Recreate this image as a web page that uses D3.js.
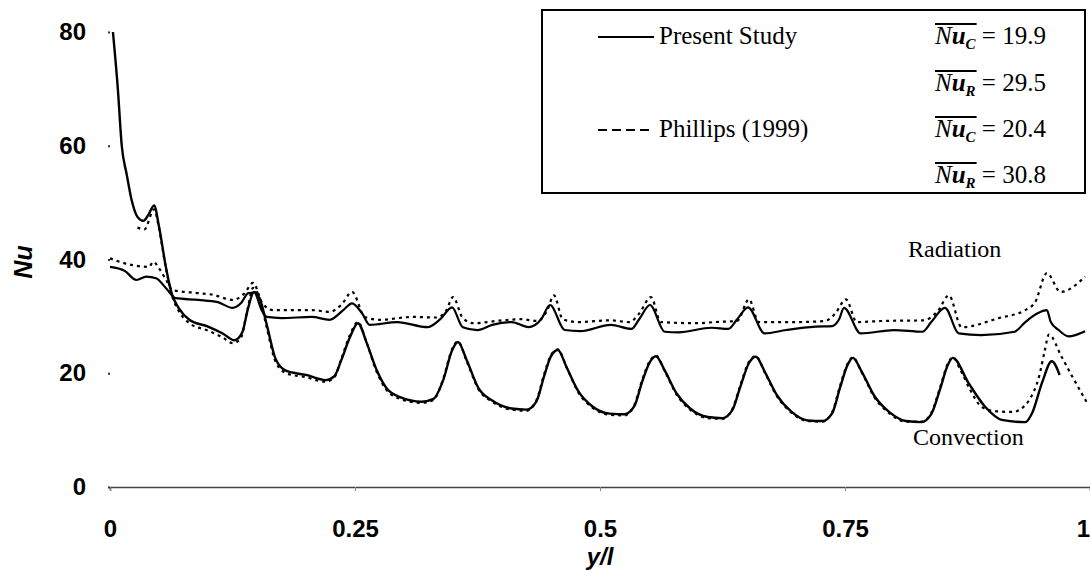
<!DOCTYPE html>
<html>
<head>
<meta charset="utf-8">
<script src="https://cdn.jsdelivr.net/npm/d3@7"></script>
<style>
  body { margin: 0; background: #fff; }
  svg { display: block; }
</style>
</head>
<body>
<div id="chart"></div>
<script>
// values, [y/l, Nu]
const presentConvection = [
  [0.003,80],[0.008,70],[0.012,60],[0.017,55],[0.022,50.5],[0.028,47.5],[0.034,46.8],[0.039,47.8],
  [0.045,49.5],[0.050,45.8],[0.057,38.7],[0.063,34],[0.070,31.5],[0.081,29.4],[0.100,28.2],[0.115,27],
  [0.127,25.8],[0.135,27.2],[0.141,31.5],[0.147,34.3],[0.153,33],[0.160,28.5],[0.169,22.5],[0.180,20.4],
  [0.200,19.7],[0.220,18.8],[0.229,19.5],[0.236,22.3],[0.245,26.4],[0.253,28.8],[0.262,25.3],[0.272,20.6],
  [0.282,17.4],[0.296,15.8],[0.318,15],[0.330,15.5],[0.340,18.8],[0.349,24],[0.355,25.5],[0.364,22.3],
  [0.376,17.4],[0.390,15.2],[0.410,13.8],[0.425,13.6],[0.435,15],[0.443,19.5],[0.450,23],[0.457,24.1],
  [0.466,21],[0.478,16.8],[0.492,14.2],[0.510,12.9],[0.525,12.8],[0.535,14.2],[0.543,18.5],[0.551,22],
  [0.557,23],[0.566,20.5],[0.578,16.5],[0.592,13.8],[0.610,12.3],[0.625,12.1],[0.635,13.5],[0.643,17.5],
  [0.652,21.8],[0.659,22.9],[0.668,20.3],[0.680,16.3],[0.695,13.3],[0.712,11.7],[0.727,11.6],[0.737,13],
  [0.745,17.5],[0.753,21.6],[0.758,22.7],[0.767,20.3],[0.780,16],[0.795,13.2],[0.812,11.6],[0.828,11.4],
  [0.838,12.8],[0.847,17.2],[0.855,21.5],[0.860,22.7],[0.876,18.3],[0.893,14.1],[0.910,11.8],[0.934,11.4],
  [0.941,13],[0.951,18.3],[0.961,22.1],[0.969,19.7]
];

const presentRadiation = [
  [0.000,38.7],[0.015,38],[0.027,36.4],[0.037,37],[0.047,36.7],[0.057,35],[0.067,33.2],[0.090,32.9],
  [0.110,32.5],[0.125,31.5],[0.134,32.4],[0.141,34.1],[0.147,34.2],[0.155,31],[0.160,29.9],[0.175,29.7],
  [0.206,29.9],[0.224,29.4],[0.238,31.1],[0.247,32.3],[0.257,30.6],[0.265,28.5],[0.293,29],[0.324,28.1],
  [0.337,29.5],[0.349,31.6],[0.360,28.1],[0.375,27.6],[0.390,28.5],[0.410,29],[0.427,28.1],[0.440,29.5],
  [0.449,32],[0.464,27.6],[0.480,27.4],[0.511,28.5],[0.532,27.8],[0.540,29.5],[0.551,32],[0.566,27.3],
  [0.580,27.2],[0.614,28],[0.631,27.8],[0.640,29.5],[0.651,31.6],[0.668,27],[0.690,27.6],[0.720,28.2],
  [0.737,28.3],[0.744,29.5],[0.749,31.5],[0.766,27],[0.800,27.6],[0.829,27.3],[0.838,29],[0.852,31.5],
  [0.866,27],[0.889,26.7],[0.923,27.3],[0.934,29],[0.946,30.5],[0.956,31.1],[0.960,29],[0.968,27.6],
  [0.978,26.5],[0.995,27.4]
];

const phillipsConvection = [
  [0.028,45.6],[0.035,45.3],[0.045,48.8],[0.050,45.5],[0.057,38.5],[0.063,33.8],[0.070,31],[0.081,28.8],
  [0.100,27.5],[0.115,26.3],[0.125,25.3],[0.133,26],[0.140,31],[0.146,35],[0.153,33],[0.160,28],
  [0.169,22],[0.180,20],[0.200,19.3],[0.220,18.5],[0.229,19.3],[0.236,22.5],[0.245,26.8],[0.253,29],
  [0.262,25.3],[0.272,20.3],[0.282,17.1],[0.296,15.5],[0.318,14.8],[0.330,15.3],[0.340,19],[0.349,24.2],
  [0.355,25.6],[0.364,22.1],[0.376,17.2],[0.390,15],[0.410,13.6],[0.425,13.4],[0.435,15.2],[0.443,19.8],
  [0.450,23.2],[0.457,24.2],[0.466,21],[0.478,16.6],[0.492,14],[0.510,12.7],[0.525,12.6],[0.535,14.4],
  [0.543,18.8],[0.551,22.2],[0.557,23.1],[0.566,20.4],[0.578,16.3],[0.592,13.6],[0.610,12.1],[0.625,12],
  [0.635,13.7],[0.643,17.8],[0.652,22],[0.659,23],[0.668,20.2],[0.680,16.1],[0.695,13.1],[0.712,11.6],
  [0.727,11.5],[0.737,13.2],[0.745,17.8],[0.753,21.8],[0.758,22.8],[0.767,20.2],[0.780,15.8],[0.795,13],
  [0.812,11.5],[0.828,11.5],[0.838,13],[0.847,17.5],[0.855,21.7],[0.860,22.8],[0.868,20.5],[0.878,17],
  [0.890,14],[0.905,13.3],[0.922,13.2],[0.930,13.8],[0.938,15.3],[0.948,19.4],[0.954,24.1],[0.958,26.8],
  [0.971,22.9],[0.982,19.4],[0.997,14.8]
];

const phillipsRadiation = [
  [0.000,40.2],[0.023,39],[0.040,38.7],[0.044,39.6],[0.051,38.2],[0.057,36.5],[0.064,34.6],[0.090,34.1],
  [0.105,33.8],[0.125,32.9],[0.137,34],[0.146,35.9],[0.155,32.5],[0.166,31.1],[0.206,31.1],[0.224,30.8],
  [0.236,32],[0.247,34.3],[0.260,29.9],[0.275,29.4],[0.309,29.9],[0.333,29.8],[0.343,31],[0.350,33.4],
  [0.360,29.7],[0.371,28.8],[0.400,29.3],[0.420,29.5],[0.436,29.2],[0.446,31],[0.453,33.7],[0.462,29.5],
  [0.478,29],[0.510,29.3],[0.530,29],[0.540,30.5],[0.552,33.4],[0.562,29],[0.600,28.8],[0.617,29],
  [0.640,29.2],[0.652,33],[0.662,29],[0.700,29],[0.730,29.2],[0.740,30.5],[0.751,33],[0.762,29],
  [0.790,29.2],[0.830,29.3],[0.845,31],[0.856,33.7],[0.869,28.1],[0.907,29.7],[0.934,31.1],[0.944,32.5],
  [0.956,37.6],[0.970,34.3],[0.995,37]
];

const xTicks = [0, 0.25, 0.5, 0.75, 1];
const xTickLabels = ["0", "0.25", "0.5", "0.75", "1"];
const yTicks = [0, 20, 40, 60, 80];

const legendSeries = ["Present Study", "Phillips (1999)"];
const meanLabels = [
  {sub: "C", value: "19.9"},
  {sub: "R", value: "29.5"},
  {sub: "C", value: "20.4"},
  {sub: "R", value: "30.8"}
];

let dim = { 'width': 1090, 'height': 571 };

let svg = d3.select('#chart').append('svg')
    .attr('width', dim.width)
    .attr('height', dim.height);

let scaleX = d3.scaleLinear().domain([0, 1]).range([110, 1090]);
let scaleY = d3.scaleLinear().domain([0, 80]).range([487, 32]);

let sans = 'Liberation Sans, Arial, sans-serif';
let serif = 'Liberation Serif, Times New Roman, serif';

// x axis
let axisX = svg.append('g')
    .attr('transform', 'translate(0,' + scaleY(0) + ')')
    .call(d3.axisBottom(scaleX).tickValues(xTicks)
        .tickFormat((d, i) => xTickLabels[i]).tickSize(4).tickPadding(29));
axisX.select('.domain').attr('stroke', '#444').attr('stroke-width', 1.6);
axisX.selectAll('.tick line').attr('stroke', '#888');
axisX.selectAll('text')
    .attr('font-family', sans).attr('font-weight', 'bold')
    .attr('font-size', 24).attr('fill', '#000')
    .attr('dx', d => d === 1 ? -7 : 0);   // keep the last label inside the page

// y axis: no line, small dots for ticks
let axisY = svg.append('g')
    .attr('transform', 'translate(110,0)')
    .call(d3.axisLeft(scaleY).tickValues(yTicks).tickSize(2).tickPadding(22));
axisY.select('.domain').remove();
axisY.selectAll('.tick line').attr('stroke', '#333').attr('stroke-width', 2);
axisY.selectAll('text')
    .attr('font-family', sans).attr('font-weight', 'bold')
    .attr('font-size', 24).attr('fill', '#000');

// axis titles
svg.append('text')
    .attr('x', 600).attr('y', 565)
    .attr('text-anchor', 'middle')
    .attr('font-family', sans)
    .attr('font-size', 24).attr('font-weight', 'bold').attr('font-style', 'italic')
    .text('y/l');

svg.append('text')
    .attr('transform', 'translate(32,262) rotate(-90)')
    .attr('text-anchor', 'middle')
    .attr('font-family', sans)
    .attr('font-size', 25).attr('font-weight', 'bold').attr('font-style', 'italic')
    .text('Nu');

// curves
let line = d3.line()
    .x(d => scaleX(d[0]))
    .y(d => scaleY(d[1]))
    .curve(d3.curveMonotoneX);

let curves = [
  {data: phillipsRadiation, dash: '3,4', width: 2.2},
  {data: phillipsConvection, dash: '3,4', width: 2.2},
  {data: presentRadiation, dash: null, width: 2.2},
  {data: presentConvection, dash: null, width: 2.4}
];

svg.selectAll('path.curve')
    .data(curves)
    .enter()
    .append('path')
    .attr('class', 'curve')
    .attr('d', d => line(d.data))
    .attr('fill', 'none')
    .attr('stroke', '#000')
    .attr('stroke-width', d => d.width)
    .attr('stroke-dasharray', d => d.dash)
    .attr('stroke-linejoin', 'round');

// curve labels
svg.append('text').attr('x', 908).attr('y', 257)
    .attr('font-family', serif).attr('font-size', 24).text('Radiation');
svg.append('text').attr('x', 913).attr('y', 445)
    .attr('font-family', serif).attr('font-size', 24).text('Convection');

// legend box
let legend = svg.append('g');
legend.append('rect')
    .attr('x', 542).attr('y', 10)
    .attr('width', 543).attr('height', 183)
    .attr('fill', '#fff').attr('stroke', '#000').attr('stroke-width', 2);

let rowY = [44, 91, 137, 183];

legendSeries.forEach((name, i) => {
    let y = rowY[i * 2];
    legend.append('line')
        .attr('x1', 598).attr('x2', 654)
        .attr('y1', y - 7).attr('y2', y - 7)
        .attr('stroke', '#000').attr('stroke-width', 2)
        .attr('stroke-dasharray', i === 0 ? null : '9,5');
    legend.append('text')
        .attr('x', 659).attr('y', y)
        .attr('font-family', serif).attr('font-size', 25)
        .text(name);
});

meanLabels.forEach((m, i) => {
    let y = rowY[i];
    let t = legend.append('text')
        .attr('x', 935).attr('y', y)
        .attr('font-family', serif).attr('font-size', 25);
    let nu = t.append('tspan').attr('font-style', 'italic').text('N');
    let u = t.append('tspan').attr('font-style', 'italic').attr('font-weight', 'bold').text('u');
    let sub = t.append('tspan').attr('font-style', 'italic').attr('font-weight', 'bold')
        .attr('font-size', 15).attr('dy', 5).text(m.sub);
    let barEnd = 935 + nu.node().getComputedTextLength()
        + u.node().getComputedTextLength()
        + sub.node().getComputedTextLength();
    t.append('tspan').attr('dy', -5).text(' = ' + m.value);
    legend.append('line')
        .attr('x1', 935).attr('x2', barEnd + 1)
        .attr('y1', y - 20).attr('y2', y - 20)
        .attr('stroke', '#000').attr('stroke-width', 2);
});
</script>
</body>
</html>
